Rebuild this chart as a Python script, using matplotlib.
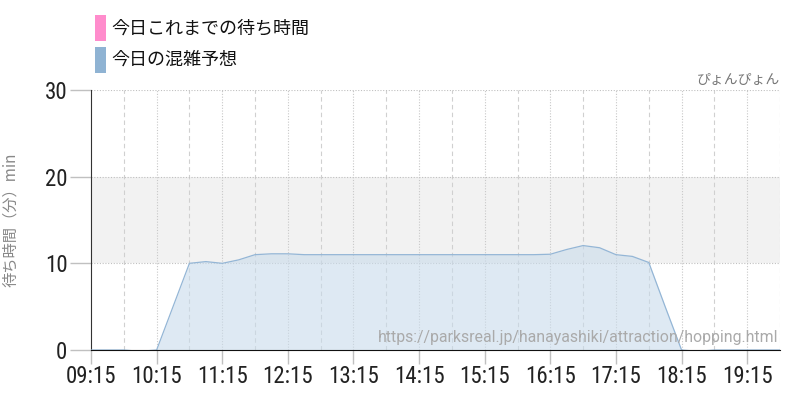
import numpy as np
import matplotlib
matplotlib.use("Agg")
import matplotlib.pyplot as plt
from matplotlib.patches import Rectangle

plt.rcParams["font.family"] = ["Noto Sans CJK JP", "DejaVu Sans"]

# forecast (今日の混雑予想), mostly 15-minute steps from 09:15
times = ["09:15", "09:30", "09:45", "10:00", "10:15", "10:30", "10:45", "11:00",
         "11:15", "11:30", "11:45", "12:00", "12:15", "12:30", "13:00", "13:30",
         "14:00", "14:30", "15:00", "15:30", "16:00", "16:15", "16:30", "16:45",
         "17:00", "17:15", "17:30", "17:45", "18:00", "18:15", "18:30", "18:45",
         "19:15", "19:45"]
forecast = [0, 0, 0, -0.15, 0, 5.0, 10.0, 10.2,
            10.0, 10.4, 11.0, 11.1, 11.1, 11.0, 11.0, 11.0,
            11.0, 11.0, 11.0, 11.0, 11.0, 11.05, 11.6, 12.05,
            11.8, 11.0, 10.8, 10.1, 5.0, 0, -0.15, 0,
            0, 0]
actual = []  # 今日これまでの待ち時間 (no data yet)

tick_labels = ["09:15", "10:15", "11:15", "12:15", "13:15", "14:15",
               "15:15", "16:15", "17:15", "18:15", "19:15"]
half_labels = ["09:45", "10:45", "11:45", "12:45", "13:45", "14:45",
               "15:45", "16:45", "17:45", "18:45", "19:45"]


def to_h(s):
    h, m = s.split(":")
    return int(h) + int(m) / 60


x = np.array([to_h(t) for t in times])
y = np.array(forecast)
ticks = [to_h(t) for t in tick_labels]
half = [to_h(t) for t in half_labels]

fig = plt.figure(figsize=(8, 4), dpi=100)
ax = fig.add_axes([91 / 800, 50 / 400, 689 / 800, 260 / 400])

ax.set_xlim(to_h("09:15"), to_h("19:45"))
ax.set_ylim(0, 30)

# band 10-20
ax.axhspan(10, 20, color="#f2f2f2", zorder=0, lw=0)

for t in ticks[1:]:
    ax.axvline(t, color="#c8c8c8", lw=0.8, ls=(0, (1, 1.5)), zorder=1)
for t in half:
    ax.axvline(t, color="#d0d0d0", lw=0.8, ls=(0, (4, 3)), zorder=1)
for v in (10, 20, 30):
    ax.axhline(v, color="#c0c0c0", lw=0.8, ls=(0, (1, 1.5)), zorder=1)

ax.fill_between(x, y, 0, color="#c9dbeb", alpha=0.6, lw=0, zorder=2)
ax.plot(x, y, color="#94b6d6", lw=0.9, zorder=3)

for s in ("top", "right"):
    ax.spines[s].set_visible(False)
ax.spines["left"].set_color("#333333")
ax.spines["bottom"].set_color("#111111")
ax.spines["bottom"].set_zorder(4)

ax.set_yticks([0, 10, 20, 30])
ax.set_xticks(ticks)
ax.set_xticklabels(tick_labels)
ax.tick_params(axis="y", length=15, color="#c0c0c0", width=1, pad=2,
               labelsize=16.5, labelcolor="#222222")
ax.tick_params(axis="x", length=10, color="#c0c0c0", width=1, pad=1,
               labelsize=16.5, labelcolor="#222222")
for lab in ax.get_xticklabels() + ax.get_yticklabels():
    lab.set_fontfamily("Roboto Condensed")
    lab.set_fontweight(400)

ax.set_ylabel("待ち時間（分）min", color="#888888", fontsize=11)
ax.yaxis.set_label_coords(-0.105, 0.5)

ax.text(1.0, 1.012, "ぴょんぴょん", transform=ax.transAxes, ha="right",
        va="bottom", fontsize=10, color="#777777")
ax.text(0.997, 0.02, "https://parksreal.jp/hanayashiki/attraction/hopping.html",
        transform=ax.transAxes, ha="right", va="bottom", fontsize=11.4,
        color="#aaaaaa", family=["Roboto", "DejaVu Sans"], zorder=5)

# legend
legend_items = [("今日これまでの待ち時間", "#ff8ccc"), ("今日の混雑予想", "#8fb3d3")]
for i, (label, col) in enumerate(legend_items):
    ytop = 15 + i * 32
    fig.patches.append(Rectangle((95 / 800, 1 - (ytop + 26) / 400), 11 / 800, 26 / 400,
                                 transform=fig.transFigure, color=col, lw=0))
    fig.text(111 / 800, 1 - (ytop + 13) / 400, label, fontsize=13, va="center",
             ha="left", color="#111111")

fig.savefig("out.png", dpi=100)
